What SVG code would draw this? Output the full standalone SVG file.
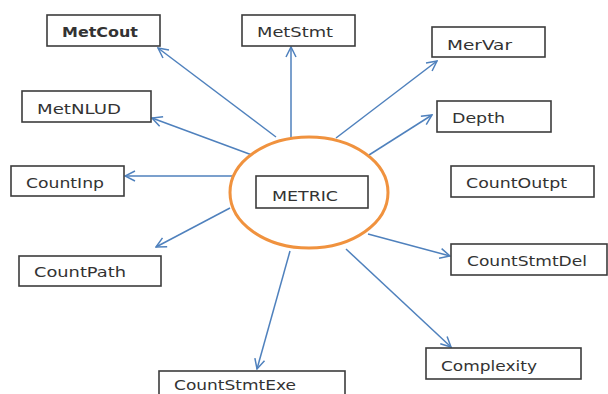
<svg xmlns="http://www.w3.org/2000/svg" width="608" height="394" viewBox="0 0 608 394">
<style>
.box{fill:#fff;stroke:#3c3c3c;stroke-width:1.6}
.lbl{font-family:"DejaVu Sans",Verdana,sans-serif;font-size:14px;fill:#333}
.conn{stroke:#4f81bd;stroke-width:1.5;fill:none;marker-end:url(#arr)}
</style>
<defs>
<marker id="arr" markerWidth="12" markerHeight="12" refX="11" refY="6" orient="auto" markerUnits="userSpaceOnUse">
<path d="M1,1 L11,6 L1,11" fill="none" stroke="#4f81bd" stroke-width="1.5"/>
</marker>
</defs>
<rect width="608" height="394" fill="#fff"/>
<g id="connectors">
<line class="conn" x1="276" y1="137" x2="158" y2="48"/>
<line class="conn" x1="291" y1="137" x2="291" y2="47"/>
<line class="conn" x1="336" y1="138" x2="437" y2="61"/>
<line class="conn" x1="369" y1="155" x2="432" y2="115"/>
<line class="conn" x1="252" y1="155" x2="152" y2="118"/>
<line class="conn" x1="232" y1="176" x2="125" y2="176"/>
<line class="conn" x1="230" y1="208" x2="156" y2="247"/>
<line class="conn" x1="290" y1="251" x2="257" y2="369"/>
<line class="conn" x1="368" y1="234" x2="450" y2="256"/>
<line class="conn" x1="346" y1="249" x2="451" y2="347"/>
</g>
<g id="metric">
<ellipse cx="309" cy="192.5" rx="79" ry="55.5" fill="#fff" stroke="#f0923e" stroke-width="3"/>
<rect class="box" x="256" y="176" width="112" height="32"/>
<text class="lbl" x="272" y="201" textLength="66" lengthAdjust="spacingAndGlyphs">METRIC</text>
</g>
<g id="metcout">
<rect class="box" x="47" y="15" width="113" height="31"/>
<text class="lbl" x="62" y="37" textLength="76" lengthAdjust="spacingAndGlyphs" font-weight="bold">MetCout</text>
</g>
<g id="metstmt">
<rect class="box" x="242" y="15" width="113" height="31"/>
<text class="lbl" x="257" y="37" textLength="76" lengthAdjust="spacingAndGlyphs">MetStmt</text>
</g>
<g id="mervar">
<rect class="box" x="432" y="27" width="113" height="30"/>
<text class="lbl" x="447" y="50" textLength="65" lengthAdjust="spacingAndGlyphs">MerVar</text>
</g>
<g id="depth">
<rect class="box" x="437" y="101" width="114" height="31"/>
<text class="lbl" x="452" y="123" textLength="53" lengthAdjust="spacingAndGlyphs">Depth</text>
</g>
<g id="countoutpt">
<rect class="box" x="451" y="166" width="143" height="31"/>
<text class="lbl" x="466" y="188" textLength="101" lengthAdjust="spacingAndGlyphs">CountOutpt</text>
</g>
<g id="metnlud">
<rect class="box" x="22" y="91" width="129" height="31"/>
<text class="lbl" x="37" y="114" textLength="84" lengthAdjust="spacingAndGlyphs">MetNLUD</text>
</g>
<g id="countinp">
<rect class="box" x="11" y="166" width="113" height="30"/>
<text class="lbl" x="26" y="188" textLength="78" lengthAdjust="spacingAndGlyphs">CountInp</text>
</g>
<g id="countpath">
<rect class="box" x="19" y="256" width="142" height="30"/>
<text class="lbl" x="34" y="277" textLength="92" lengthAdjust="spacingAndGlyphs">CountPath</text>
</g>
<g id="countstmtexe">
<rect class="box" x="159" y="371" width="186" height="40"/>
<text class="lbl" x="174" y="390" font-size="13" textLength="122" lengthAdjust="spacingAndGlyphs">CountStmtExe</text>
</g>
<g id="countstmtdel">
<rect class="box" x="451" y="244" width="156" height="31"/>
<text class="lbl" x="467" y="266" textLength="120" lengthAdjust="spacingAndGlyphs">CountStmtDel</text>
</g>
<g id="complexity">
<rect class="box" x="426" y="348" width="155" height="31"/>
<text class="lbl" x="441" y="371" textLength="96" lengthAdjust="spacingAndGlyphs">Complexity</text>
</g>
</svg>
